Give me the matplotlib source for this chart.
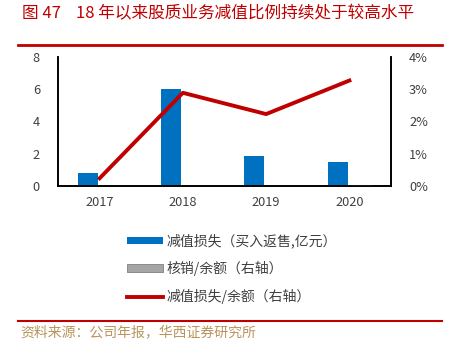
import numpy as np
import matplotlib.pyplot as plt
from matplotlib.ticker import FuncFormatter

plt.rcParams['font.family'] = ['Noto Sans CJK SC', 'DejaVu Sans']

years = ['2017', '2018', '2019', '2020']
impairment = [0.78, 6.0, 1.89, 1.51]          # 减值损失, 亿元
writeoff_ratio = [0.0, 0.0, 0.0, 0.04]        # 核销/余额, %
impairment_ratio = [0.24, 2.89, 2.23, 3.27]   # 减值损失/余额, %

red = '#C00000'
blue = '#0070C0'
txt = '#404040'

fig = plt.figure(figsize=(4.5, 3.44), dpi=100)
ax1 = fig.add_axes([58/450, 1 - 186/344, (391 - 58)/450, (186 - 57)/344])
ax2 = ax1.twinx()

x = np.arange(len(years))
w = 0.24
ax1.bar(x - 0.14, impairment, width=w, color=blue, label='减值损失（买入返售,亿元）', zorder=2)
ax2.bar(x + 0.14, writeoff_ratio, width=w, color='#A5A5A5', edgecolor='#7F7F7F', lw=0.6,
        label='核销/余额（右轴）', zorder=2)
ax2.plot(x, impairment_ratio, color=red, lw=2.8, label='减值损失/余额（右轴）', zorder=3)

ax1.set_xlim(-0.5, 3.5)
ax1.set_ylim(0, 8)
ax1.set_yticks([0, 2, 4, 6, 8])
ax2.set_ylim(0, 4)
ax2.set_yticks([0, 1, 2, 3, 4])
ax2.yaxis.set_major_formatter(FuncFormatter(lambda v, p: '%d%%' % v))
ax1.set_xticks(x)
ax1.set_xticklabels(years)

for ax in (ax1, ax2):
    ax.spines['top'].set_visible(False)
    for s in ax.spines.values():
        s.set_color('#000000')
        s.set_linewidth(1.2)
    ax.tick_params(length=0, labelsize=9.2, colors=txt)
ax1.tick_params(axis='y', pad=13)
ax2.tick_params(axis='y', pad=13)
ax1.tick_params(axis='x', pad=7)

h1, l1 = ax1.get_legend_handles_labels()
h2, l2 = ax2.get_legend_handles_labels()
fig.legend(h1 + h2[::-1], l1 + l2[::-1], loc='upper left', bbox_to_anchor=(114/450, 1 - 221/344),
           frameon=False, fontsize=10, handlelength=2.6, handleheight=0.45, labelspacing=0.92,
           handletextpad=0.25, labelcolor=txt)

# title and source
fig.text(22/450, 1 - 14/344, '图 47    18 年以来股质业务减值比例持续处于较高水平',
         color=red, fontsize=12, va='center', ha='left')
fig.add_artist(plt.Line2D([18/450, 442/450], [1 - 45/344, 1 - 45/344], color=red, lw=2))
fig.add_artist(plt.Line2D([18/450, 442/450], [1 - 321/344, 1 - 321/344], color=red, lw=1.5))
fig.text(20/450, 1 - 332/344, '资料来源：公司年报，华西证券研究所',
         color='#B8955B', fontsize=10, va='center', ha='left')

fig.savefig('out.png', dpi=100)
